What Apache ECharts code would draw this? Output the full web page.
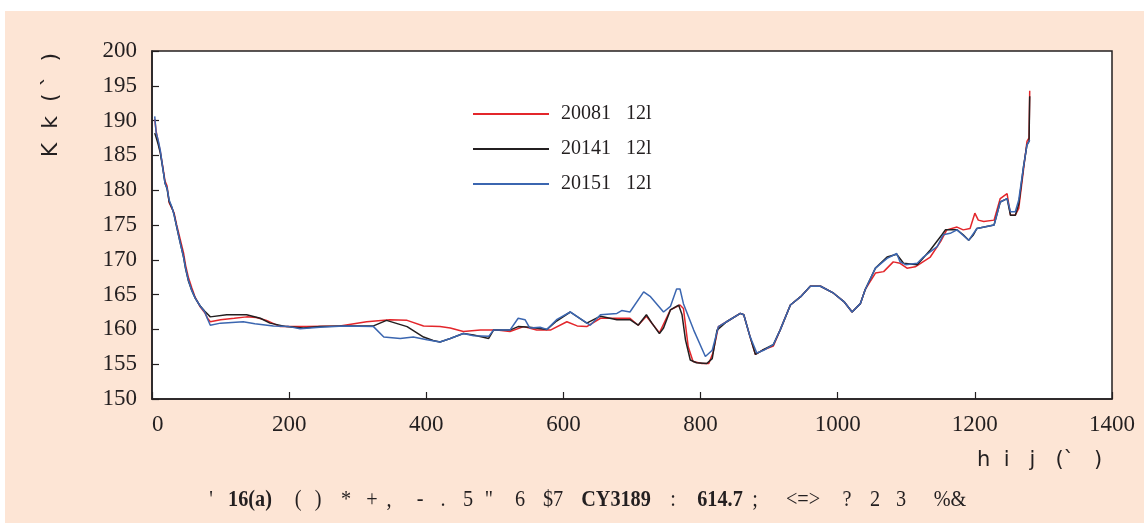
<!DOCTYPE html>
<html>
<head>
<meta charset="utf-8">
<script src="https://cdn.jsdelivr.net/npm/echarts@6/dist/echarts.min.js"></script>
<style>
  html, body { margin: 0; padding: 0; background: #ffffff; }
  #panel { position: absolute; left: 5px; top: 11px; width: 1139px; height: 512px; background: #fde5d5; }
  #chart { width: 1139px; height: 512px; }
</style>
</head>
<body>
<div id="panel"><div id="chart"></div></div>
<script>
// Series names shown in the legend
const seriesNames = ['20081   12l', '20141   12l', '20151   12l'];

// 2008 profile
const dist2008 = [4,6,9,12,16,19,22,25,29,32,36,41,46,49,53,58,63,70,77,81,85,100,120,138,152,167,187,226,274,313,347,372,396,420,435,454,479,503,522,542,561,581,605,620,634,654,678,697,709,721,740,756,770,775,782,789,802,812,818,826,838,858,863,872,880,890,906,916,931,946,960,975,994,1009,1021,1033,1040,1055,1067,1081,1091,1101,1113,1135,1150,1159,1174,1183,1193,1200,1205,1213,1228,1237,1247,1252,1259,1264,1271,1276,1279,1280];
const temp2008 = [190.2,188.5,187.0,185.6,183.2,181.3,180.6,178.2,177.4,176.8,175.0,173.0,171.0,169.2,167.5,166.0,164.6,163.3,162.4,161.6,161.1,161.4,161.6,161.8,161.7,161.3,160.4,160.4,160.5,161.1,161.4,161.3,160.5,160.4,160.2,159.7,159.9,159.9,159.7,160.4,159.9,159.9,161.1,160.5,160.4,161.6,161.6,161.6,160.6,161.9,159.5,162.8,163.5,163.0,157.5,155.4,155.1,155.1,156.6,160.4,161.1,162.3,162.1,159.0,156.4,157.0,157.6,159.9,163.5,164.7,166.2,166.2,165.2,164.0,162.5,163.7,165.7,168.1,168.3,169.7,169.5,168.8,169.0,170.4,172.6,174.3,174.7,174.3,174.5,176.7,175.7,175.5,175.7,178.8,179.5,176.4,176.4,177.4,183.0,187.0,187.5,194.3];

// 2014 profile
const dist2014 = [4,6,9,12,16,19,22,25,29,32,36,41,46,49,53,58,63,70,77,81,85,109,138,158,172,196,221,245,280,323,342,372,396,410,420,435,454,469,491,498,522,534,551,576,590,610,634,654,678,697,709,721,729,740,746,756,768,773,778,785,794,809,817,824,838,858,863,872,880,890,906,916,931,946,960,975,994,1009,1021,1033,1040,1055,1072,1086,1096,1116,1135,1152,1157,1174,1183,1191,1198,1203,1228,1237,1247,1252,1259,1264,1271,1276,1279,1280];
const temp2014 = [188.2,187.6,186.6,185.4,183.0,181.0,180.2,178.4,177.5,176.6,174.7,172.5,170.4,168.7,167.0,165.6,164.5,163.4,162.6,162.2,161.8,162.1,162.1,161.6,160.9,160.4,160.2,160.4,160.5,160.5,161.3,160.4,158.9,158.4,158.2,158.7,159.4,159.2,158.7,159.9,159.9,160.4,160.3,160.0,161.2,162.5,160.9,161.9,161.4,161.4,160.6,162.1,160.9,159.4,160.2,162.8,163.5,162.1,158.5,155.6,155.2,155.1,155.8,159.9,161.1,162.3,162.1,159.0,156.4,157.0,157.8,159.9,163.5,164.7,166.2,166.2,165.2,164.0,162.5,163.7,165.7,168.8,170.4,170.8,169.5,169.3,171.4,173.6,174.3,174.3,173.6,172.8,173.6,174.5,175.0,178.3,178.8,176.4,176.4,178.0,183.4,186.5,187.0,193.5];

// 2015 profile
const dist2015 = [4,6,9,12,16,19,22,25,29,32,36,41,46,49,53,58,63,70,77,81,85,100,133,150,177,200,216,245,280,323,338,362,381,401,420,435,454,469,491,498,522,534,544,551,566,576,590,610,624,639,654,678,685,697,717,727,746,756,765,770,775,790,807,817,826,838,858,863,872,882,892,906,916,931,946,960,975,994,1009,1021,1033,1040,1055,1072,1086,1091,1099,1116,1125,1145,1154,1164,1174,1191,1203,1228,1237,1247,1252,1259,1264,1271,1276,1280];
const temp2015 = [190.6,188.3,187.2,185.8,183.0,181.0,180.3,178.6,177.6,176.5,174.8,172.5,170.4,168.8,167.1,165.6,164.5,163.4,162.5,161.5,160.6,160.9,161.1,160.8,160.5,160.4,160.1,160.3,160.5,160.4,158.9,158.7,158.9,158.5,158.2,158.7,159.4,159.1,159.0,159.9,159.9,161.6,161.4,160.2,160.3,160.0,161.4,162.5,161.6,160.6,162.1,162.3,162.7,162.5,165.4,164.7,162.5,163.3,165.8,165.8,163.7,159.9,156.1,157.0,160.4,161.1,162.3,162.1,159.0,156.6,157.0,157.8,159.9,163.5,164.7,166.2,166.2,165.2,164.0,162.5,163.7,165.7,168.8,170.2,170.9,169.7,169.3,169.5,170.4,171.9,173.6,173.8,174.3,172.8,174.5,175.0,178.3,178.8,176.9,176.9,178.6,183.4,186.5,187.2];

// Axis ranges and titles
const xMin = 0, xMax = 1400, xStep = 200;
const yMin = 150, yMax = 200, yStep = 5;
const yAxisTitle = 'K  k  ( ˋ  )';
const xAxisTitle = 'h  i   j   (`   )';

// Caption beneath the chart: token text and whether it is bold
const captionTokens = ["'", '16(a)', '(', ')', '*', '+', ',', '-', '.', '5', '"', '6', '$7', 'CY3189', ':', '614.7', ';', '<=>', '?', '2', '3', '%&'];
const captionBold   = [false, true, false, false, false, false, false, false, false, false, false, false, false, true, false, true, false, false, false, false, false, false];
// Horizontal centre of each caption token (px, inside the panel)
const captionCentres = [206, 245, 293, 313, 341, 367, 384, 415, 438, 463, 484, 515, 548, 611, 668, 715, 750, 798, 842, 870, 896, 945];

const colors = ['#e3262b', '#231f20', '#3b66b0'];
const ink = '#231f20';

function pairs(xs, ys) { return xs.map((x, i) => [x, ys[i]]); }

const chart = echarts.init(document.getElementById('chart'), null, { renderer: 'canvas' });

const captionGraphics = captionTokens.map((t, i) => ({
  type: 'text', x: captionCentres[i], y: 489, scaleX: 0.88,
  style: {
    text: t, fill: ink, align: 'center', verticalAlign: 'middle',
    font: (captionBold[i] ? 'bold ' : '') + '23px "Liberation Serif"'
  }
}));

chart.setOption({
  animation: false,
  backgroundColor: 'transparent',
  grid: {
    left: 147, top: 40, right: 32, bottom: 124,
    show: true, backgroundColor: '#ffffff', borderColor: ink, borderWidth: 1.5
  },
  legend: {
    orient: 'vertical', left: 463, top: 88,
    itemWidth: 76, itemHeight: 2, itemGap: 15, icon: 'rect',
    textStyle: { fontFamily: 'Liberation Serif', fontSize: 20, color: ink, lineHeight: 20, padding: [0, 0, 0, 7] },
    data: seriesNames
  },
  xAxis: {
    type: 'value', min: xMin, max: xMax, interval: xStep,
    axisLine: { show: true, onZero: false, lineStyle: { color: ink, width: 1.5 } },
    axisTick: { show: true, inside: true, length: 7, lineStyle: { color: ink, width: 1.2 } },
    axisLabel: {
      fontFamily: 'Liberation Serif', fontSize: 23, color: ink, margin: 14,
      alignMinLabel: 'left', formatter: v => String(v)
    },
    splitLine: { show: false }
  },
  yAxis: {
    type: 'value', min: yMin, max: yMax, interval: yStep,
    axisLine: { show: true, lineStyle: { color: ink, width: 1.5 } },
    axisTick: { show: true, inside: true, length: 7, lineStyle: { color: ink, width: 1.2 } },
    axisLabel: { fontFamily: 'Liberation Serif', fontSize: 23, color: ink, margin: 15, formatter: v => String(v) },
    splitLine: { show: false }
  },
  graphic: [
    {
      type: 'text', x: 46, y: 94, rotation: Math.PI / 2,
      style: { text: yAxisTitle, font: '22px "DejaVu Sans"', fill: ink, align: 'center', verticalAlign: 'middle' }
    },
    {
      type: 'text', left: 972, top: 439,
      style: { text: xAxisTitle, font: '21px "DejaVu Sans"', fill: ink }
    }
  ].concat(captionGraphics),
  series: [
    { name: seriesNames[0], data: pairs(dist2008, temp2008), color: colors[0] },
    { name: seriesNames[1], data: pairs(dist2014, temp2014), color: colors[1] },
    { name: seriesNames[2], data: pairs(dist2015, temp2015), color: colors[2] }
  ].map(s => ({
    type: 'line', name: s.name, data: s.data, showSymbol: false, symbol: 'none',
    smooth: false, lineStyle: { width: 1.5, color: s.color }, itemStyle: { color: s.color }
  }))
});
</script>
</body>
</html>
